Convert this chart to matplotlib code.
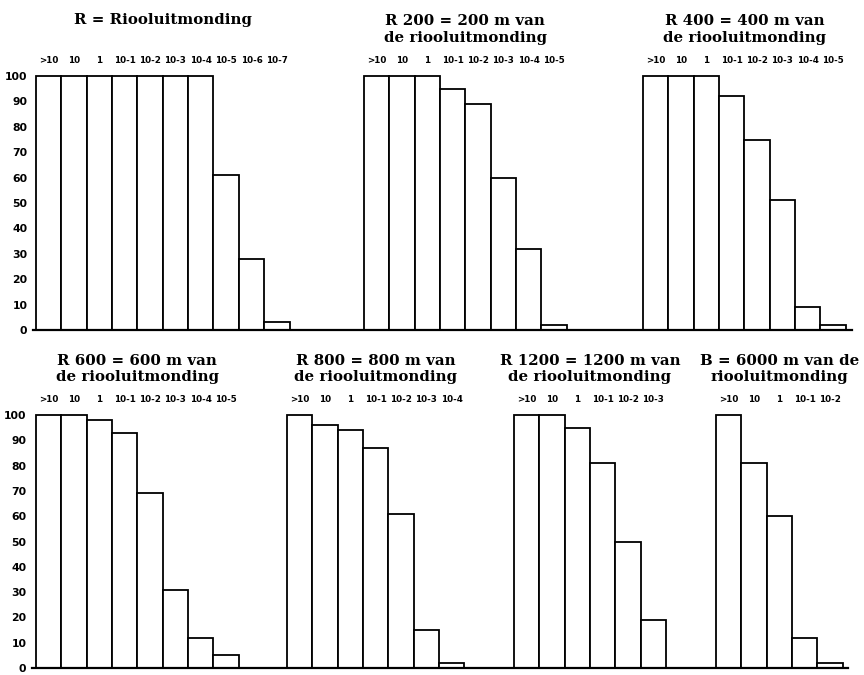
import numpy as np
import matplotlib.pyplot as plt

dilutions = ['>10', '10', '1', '10-1', '10-2', '10-3', '10-4', '10-5', '10-6', '10-7']

# percentage positive per dilution
r0 = [100, 100, 100, 100, 100, 100, 100, 61, 28, 3]
r200 = [100, 100, 100, 95, 89, 60, 32, 2]
r400 = [100, 100, 100, 92, 75, 51, 9, 2]
r600 = [100, 100, 98, 93, 69, 31, 12, 5]
r800 = [100, 96, 94, 87, 61, 15, 2]
r1200 = [100, 100, 95, 81, 50, 19]
b6000 = [100, 81, 60, 12, 2]

titles_top = ['R = Riooluitmonding',
              'R 200 = 200 m van\nde riooluitmonding',
              'R 400 = 400 m van\nde riooluitmonding']
titles_bottom = ['R 600 = 600 m van\nde riooluitmonding',
                 'R 800 = 800 m van\nde riooluitmonding',
                 'R 1200 = 1200 m van\nde riooluitmonding',
                 'B = 6000 m van de\nriooluitmonding']

yticks = [0, 10, 20, 30, 40, 50, 60, 70, 80, 90, 100]

W, H = 864, 675
bw = 25.35  # px per bar

fig = plt.figure(figsize=(W / 100, H / 100), dpi=100)


def make_row(x0, x1, y0, y100, first):
    ax = fig.add_axes([x0 / W, 1 - y0 / H, (x1 - x0) / W, (y0 - y100) / H])
    ax.set_xlim((x0 - first) / bw, (x1 - first) / bw)
    ax.set_ylim(0, 100)
    for s in ['top', 'left', 'right']:
        ax.spines[s].set_visible(False)
    ax.spines['bottom'].set_linewidth(1.6)
    ax.set_xticks([])
    ax.set_yticks(yticks)
    ax.set_yticklabels([str(t) for t in yticks], fontsize=7.8, fontweight='bold')
    ax.tick_params(axis='y', length=0, pad=4)
    return ax


def panel(ax, start, vals, title):
    n = len(vals)
    x = start + np.arange(n) + 0.5
    ax.bar(x, vals, width=1, facecolor='white', edgecolor='black',
           linewidth=1.3, clip_on=False)
    for xi, lab in zip(x, dilutions[:n]):
        ax.text(xi, 106, lab, ha='center', va='center', fontsize=6.3,
                fontweight='bold')
    ty = 118.3 if '\n' in title else 122
    ax.text(start + n / 2, ty, title, ha='center', va='center',
            fontsize=10.8, fontweight='bold', family='DejaVu Serif',
            linespacing=1.2)


top = make_row(33, 852, 330, 76, 36)
panel(top, 0, r0, titles_top[0])
panel(top, (364 - 36) / bw, r200, titles_top[1])
panel(top, (643 - 36) / bw, r400, titles_top[2])

bottom = make_row(32, 848, 668, 415, 36)
panel(bottom, 0, r600, titles_bottom[0])
panel(bottom, (287 - 36) / bw, r800, titles_bottom[1])
panel(bottom, (514 - 36) / bw, r1200, titles_bottom[2])
panel(bottom, (716 - 36) / bw, b6000, titles_bottom[3])

plt.savefig('out.png', dpi=100)
